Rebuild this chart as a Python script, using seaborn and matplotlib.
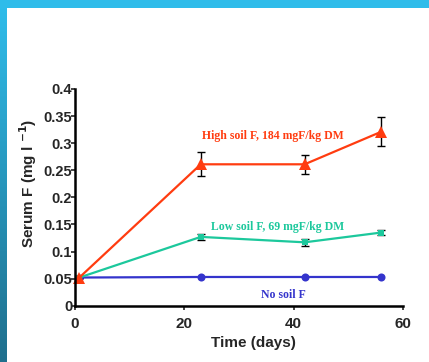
import numpy as np
import pandas as pd
import matplotlib
matplotlib.use("Agg")
import matplotlib.pyplot as plt
import seaborn as sns
from matplotlib.colors import LinearSegmentedColormap

days = [0.8, 23, 42, 56]
high_vals = [0.052, 0.261, 0.261, 0.321]
high_err = [0.0, 0.022, 0.017, 0.027]
low_vals = [0.052, 0.127, 0.117, 0.135]
low_err = [0.0, 0.006, 0.006, 0.004]
none_vals = [0.052, 0.053, 0.053, 0.053]
series_names = ["High soil F, 184 mgF/kg DM", "Low soil F, 69 mgF/kg DM", "No soil F"]
colors = ["#ff3c10", "#1cc89c", "#3434cc"]
y_ticks = [0, 0.05, 0.1, 0.15, 0.2, 0.25, 0.3, 0.35, 0.4]
y_tick_labels = ["0", "0.05", "0.1", "0.15", "0.2", "0.25", "0.3", "0.35", "0.4"]
x_ticks = [0, 20, 40, 60]

df = pd.DataFrame({
    "day": days * 3,
    "value": high_vals + low_vals + none_vals,
    "series": [series_names[0]] * 4 + [series_names[1]] * 4 + [series_names[2]] * 4,
})

sns.set_style("white")
plt.rcParams["font.family"] = ["Liberation Sans", "DejaVu Sans"]

fig = plt.figure(figsize=(4.29, 3.62), dpi=100)
fig.patch.set_facecolor("white")

# slide decoration: top bar and left gradient bar
top = fig.add_axes([0, 1 - 8 / 362, 1, 8 / 362])
top.set_facecolor("#2fbcea")
top.set_xticks([]); top.set_yticks([])
for s in top.spines.values():
    s.set_visible(False)
left = fig.add_axes([0, 0, 7 / 429, 1 - 8 / 362])
grad = np.linspace(0, 1, 256).reshape(-1, 1)
cm = LinearSegmentedColormap.from_list("g", ["#2fbcea", "#1f6f8d"])
left.imshow(grad, aspect="auto", cmap=cm, origin="upper")
left.set_xticks([]); left.set_yticks([])
for s in left.spines.values():
    s.set_visible(False)

ax = fig.add_axes([75 / 429, 1 - 305.7 / 362, 328 / 429, (305.7 - 89) / 362])
pal = dict(zip(series_names, colors))
mk = dict(zip(series_names, ["^", "s", "o"]))
ax.errorbar(days, high_vals, yerr=high_err, fmt="none", ecolor="black",
            elinewidth=1, capsize=3, capthick=1, zorder=1)
ax.errorbar(days, low_vals, yerr=low_err, fmt="none", ecolor="black",
            elinewidth=1, capsize=3, capthick=1, zorder=1)
sns.lineplot(data=df, x="day", y="value", hue="series", style="series",
             palette=pal, markers=mk, dashes=False, ax=ax, legend=False,
             linewidth=1.6, markeredgewidth=0, clip_on=False,
             hue_order=series_names[::-1], style_order=series_names[::-1])
for line in ax.lines:
    m = line.get_marker()
    if m == "^":
        line.set_markersize(8.5)
    elif m == "s":
        line.set_markersize(4.8)
    elif m == "o":
        line.set_markersize(5.8)
    line.set_zorder(3)

ax.set_xlim(0, 60)
ax.set_ylim(0, 0.4)
ax.set_xticks(x_ticks)
ax.set_xticklabels([str(t) for t in x_ticks], fontsize=11, fontweight="bold")
ax.set_yticks(y_ticks)
ax.set_yticklabels(y_tick_labels, fontsize=10.5, fontweight="bold")
ax.tick_params(axis="y", length=3, width=1.2, pad=-1, direction="out", left=True)
ax.tick_params(axis="x", length=3, width=1.2, pad=5, direction="out", bottom=True)
for s in ["top", "right"]:
    ax.spines[s].set_visible(False)
for s in ["left", "bottom"]:
    ax.spines[s].set_linewidth(1.8)
    ax.spines[s].set_color("black")
    ax.spines[s].set_zorder(4)
ax.set_xlabel("Time (days)", fontsize=11, fontweight="bold")
ax.xaxis.set_label_coords(0.545, -0.14)
ax.set_ylabel(r"Serum F (mg l $^{\mathbf{-1}}$)", fontsize=11, fontweight="bold")
ax.yaxis.set_label_coords(-0.11, 0.565)

serif = ["Liberation Serif", "DejaVu Serif"]
ax.text(36.2, 0.313, series_names[0], color=colors[0], fontsize=8.5,
        fontweight="bold", family=serif, ha="center", va="center")
ax.text(37.0, 0.146, series_names[1], color=colors[1], fontsize=8.5,
        fontweight="bold", family=serif, ha="center", va="center")
ax.text(38.2, 0.02, series_names[2], color=colors[2], fontsize=8.5,
        fontweight="bold", family=serif, ha="center", va="center")

fig.savefig("out.png", dpi=100, facecolor="white")
